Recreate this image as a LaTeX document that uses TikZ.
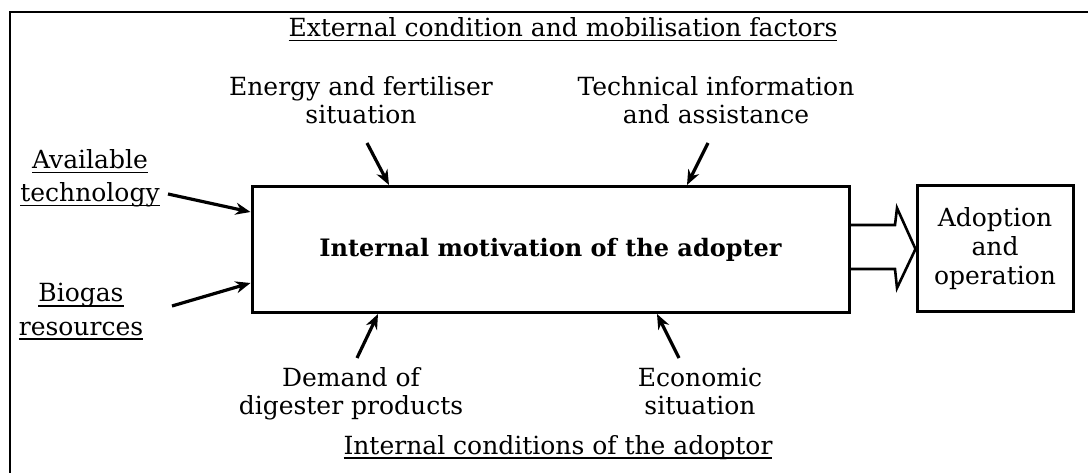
\documentclass[tikz,border=0pt]{standalone}
\usepackage{fontspec}
\setmainfont{DejaVu Serif}
\usetikzlibrary{arrows.meta}
\newsavebox\ulbox
\newcommand\ulin[1]{\sbox\ulbox{#1}\rlap{\rule[-4.5pt]{\wd\ulbox}{1.8pt}}\usebox\ulbox}
\begin{document}
\begin{tikzpicture}[x=1pt,y=-1pt,
  lbl/.style={align=center,font=\fontsize{25}{28}\selectfont,inner sep=0pt,anchor=base},
  boxn/.style={draw,line width=3pt,inner sep=0pt,font=\fontsize{25}{29}\selectfont,align=center},
  arr/.style={line width=3.2pt,-{Stealth[length=15pt,width=12pt]}}]
\useasboundingbox (0,0) rectangle (1088,473);
\draw[line width=2pt] (10,473) -- (10,12) -- (1088,12);
% boxes
\node[boxn,minimum width=597pt,minimum height=126pt] (m) at (550.5,249.5) {\fontsize{24}{28}\selectfont\bfseries Internal motivation of the adopter};
\node[boxn,minimum width=156pt,minimum height=126pt] (a) at (995,249) {Adoption\\and\\operation};
% labels
\node[lbl] (t) at (563,37) {\ulin{External condition and mobilisation factors}};
\node[lbl] (en) at (361,124) {Energy and fertiliser\\situation};
\node[lbl] (te) at (716,124) {Technical information\\and assistance};
\node[lbl] (av) at (90,202) {\ulin{Available}\\[5pt]\ulin{technology}};
\node[lbl] (bi) at (81,335) {\ulin{Biogas}\\[5pt]\ulin{resources}};
\node[lbl] (de) at (351,414) {Demand of\\digester products};
\node[lbl] (ec) at (700,414) {Economic\\situation};
\node[lbl] (ic) at (558,454) {\ulin{Internal conditions of the adoptor}};
% arrow tails
\coordinate (s1) at (367,143);
\coordinate (s2) at (708,143);
\coordinate (s3) at (168,194);
\coordinate (s4) at (172,306);
\coordinate (s5) at (357,358);
\coordinate (s6) at (679,358);
\draw[arr] (s1) -- (389,0 |- m.north);
\draw[arr] (s2) -- (687,0 |- m.north);
\draw[arr] (s3) -- (m.west |- 0,212);
\draw[arr] (s4) -- (m.west |- 0,283);
\draw[arr] (s5) -- (378,0 |- m.south);
\draw[arr] (s6) -- (657,0 |- m.south);
% big hollow arrow
\draw[line width=2.6pt,line join=miter] (m.east |- 0,225) -- (895,225) -- (897,208) -- (a.west) -- (897,288) -- (895,269) -- (m.east |- 0,269);
\end{tikzpicture}
\end{document}
